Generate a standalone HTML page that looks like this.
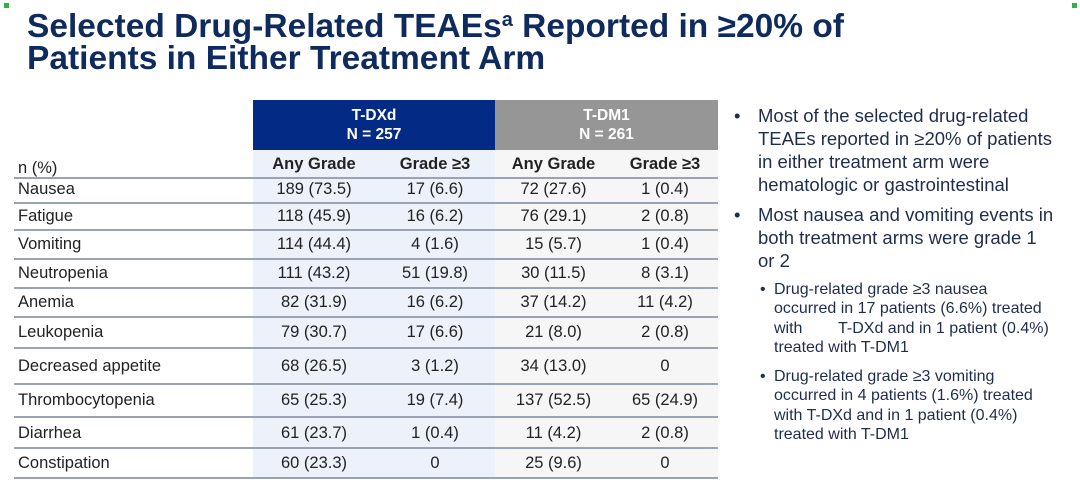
<!DOCTYPE html>
<html><head><meta charset="utf-8"><style>
*{margin:0;padding:0;box-sizing:border-box}
body{width:1080px;height:501px;background:#fff;position:relative;overflow:hidden;font-family:"Liberation Sans",Arial,sans-serif;color:#222}
.t{position:absolute;left:27px;font-weight:bold;font-size:33.5px;color:#0f2a5c;line-height:35px;white-space:nowrap}
.a{position:absolute;font-size:16.5px;white-space:nowrap}
.bg{position:absolute}
.ln{position:absolute;left:14px;width:704px;height:2px;background:#9aa3b4}
.c{position:absolute;font-size:16.5px;text-align:center;white-space:nowrap}
.b{position:absolute;color:#1f2d4d;white-space:nowrap}
</style></head><body>
<div style="position:absolute;left:4px;top:3px;width:5px;height:5px;background:#2bb34a"></div>
<div style="position:absolute;left:1072px;top:3px;width:5px;height:5px;background:#2bb34a"></div>
<div class="t" style="top:3px">Selected Drug-Related TEAEs<span style="font-size:20px;vertical-align:11px">a</span> Reported in ≥20% of</div>
<div class="t" style="top:41px">Patients in Either Treatment Arm</div>

<div class="bg" style="left:253px;top:100px;width:242px;height:50px;background:#032a85"></div>
<div class="bg" style="left:495px;top:100px;width:223px;height:50px;background:#969696"></div>
<div class="bg" style="left:253px;top:150px;width:242px;height:328px;background:#edf1f9"></div>
<div class="bg" style="left:495px;top:150px;width:223px;height:328px;background:#f6f6f6"></div>
<div class="c" style="left:253px;width:242px;top:106px;color:#fff;font-weight:bold;font-size:15.5px;line-height:19px">T-DXd<br>N = 257</div>
<div class="c" style="left:495px;width:223px;top:106px;color:#fff;font-weight:bold;font-size:15.5px;line-height:19px">T-DM1<br>N = 261</div>
<div class="a" style="left:18px;top:159px">n (%)</div>
<div class="c" style="left:253px;width:122px;top:155px;font-weight:bold">Any Grade</div>
<div class="c" style="left:375px;width:120px;top:155px;font-weight:bold">Grade ≥3</div>
<div class="c" style="left:495px;width:117px;top:155px;font-weight:bold">Any Grade</div>
<div class="c" style="left:612px;width:106px;top:155px;font-weight:bold">Grade ≥3</div>

<div class="ln" style="top:177px"></div>
<div class="ln" style="top:202px"></div>
<div class="ln" style="top:229px"></div>
<div class="ln" style="top:258px"></div>
<div class="ln" style="top:287px"></div>
<div class="ln" style="top:316px"></div>
<div class="ln" style="top:347px"></div>
<div class="ln" style="top:383px"></div>
<div class="ln" style="top:416px"></div>
<div class="ln" style="top:447px"></div>
<div class="ln" style="top:477px"></div>

<div id="rows"></div>
<script>
var d=[["Nausea","189 (73.5)","17 (6.6)","72 (27.6)","1 (0.4)",189],
["Fatigue","118 (45.9)","16 (6.2)","76 (29.1)","2 (0.8)",216],
["Vomiting","114 (44.4)","4 (1.6)","15 (5.7)","1 (0.4)",244],
["Neutropenia","111 (43.2)","51 (19.8)","30 (11.5)","8 (3.1)",273],
["Anemia","82 (31.9)","16 (6.2)","37 (14.2)","11 (4.2)",302],
["Leukopenia","79 (30.7)","17 (6.6)","21 (8.0)","2 (0.8)",332],
["Decreased appetite","68 (26.5)","3 (1.2)","34 (13.0)","0",366],
["Thrombocytopenia","65 (25.3)","19 (7.4)","137 (52.5)","65 (24.9)",400],
["Diarrhea","61 (23.7)","1 (0.4)","11 (4.2)","2 (0.8)",433],
["Constipation","60 (23.3)","0","25 (9.6)","0",463]];
var cols=[[253,122],[375,120],[495,117],[612,106]],h="";
d.forEach(function(r){var t=r[5]-9;
h+='<div class="a" style="left:18px;top:'+t+'px">'+r[0]+'</div>';
for(var i=0;i<4;i++)h+='<div class="c" style="left:'+cols[i][0]+'px;width:'+cols[i][1]+'px;top:'+t+'px">'+r[i+1]+'</div>';});
document.getElementById("rows").innerHTML=h;
</script>

<div class="b" style="left:734px;top:104px;font-size:18.5px;line-height:23px">•</div>
<div class="b" style="left:758px;top:104px;font-size:18.5px;line-height:23px">Most of the selected drug-related<br>TEAEs reported in ≥20% of patients<br>in either treatment arm were<br>hematologic or gastrointestinal</div>
<div class="b" style="left:734px;top:203px;font-size:18.5px;line-height:23px">•</div>
<div class="b" style="left:758px;top:203px;font-size:18.5px;line-height:23px">Most nausea and vomiting events in<br>both treatment arms were grade 1<br>or 2</div>
<div class="b" style="left:760px;top:280px;font-size:16px;line-height:19.3px">•</div>
<div class="b" style="left:774px;top:280px;font-size:16px;line-height:19.3px">Drug-related grade ≥3 nausea<br>occurred in 17 patients (6.6%) treated<br>with&nbsp;&nbsp;&nbsp;&nbsp;&nbsp;&nbsp;&nbsp;&nbsp;T-DXd and in 1 patient (0.4%)<br>treated with T-DM1</div>
<div class="b" style="left:760px;top:367px;font-size:16px;line-height:19.3px">•</div>
<div class="b" style="left:774px;top:367px;font-size:16px;line-height:19.3px">Drug-related grade ≥3 vomiting<br>occurred in 4 patients (1.6%) treated<br>with T-DXd and in 1 patient (0.4%)<br>treated with T-DM1</div>
</body></html>
